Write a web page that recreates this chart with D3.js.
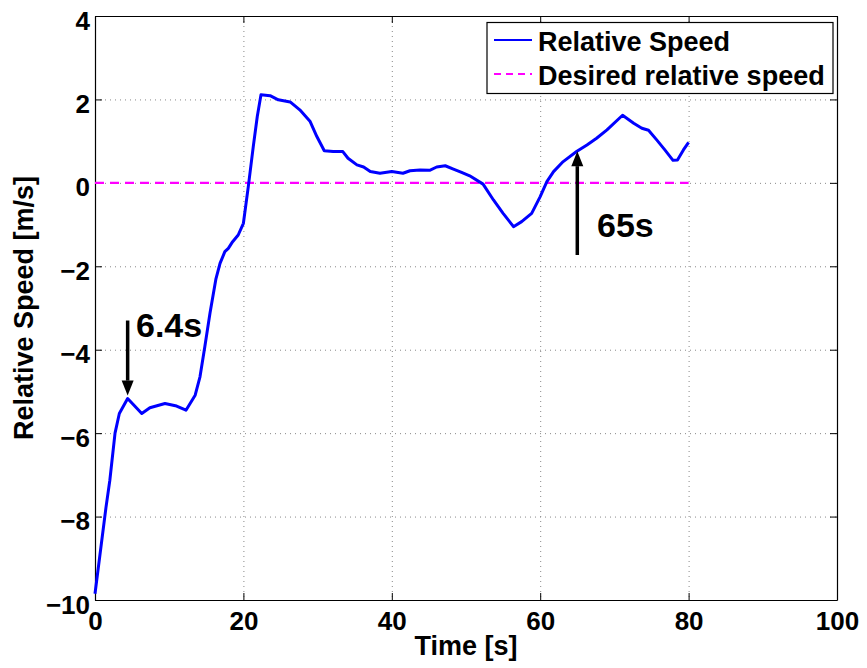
<!DOCTYPE html>
<html>
<head>
<meta charset="utf-8">
<script src="https://cdn.jsdelivr.net/npm/d3@7/dist/d3.min.js"></script>
<style>
  html, body { margin: 0; padding: 0; background: #fff; }
  svg { display: block; font-family: "Liberation Sans", Arial, Helvetica, sans-serif; font-weight: bold; }
</style>
</head>
<body>
<svg id="chart" width="867" height="668"></svg>
<script>
// Measured relative speed over time
const timeS = [0, 1.48, 2.0, 2.7, 3.28, 4.4, 6.3, 7.4, 9.43, 11.0, 12.26, 13.5, 14.15, 14.8, 15.5, 16.3,
  16.85, 17.5, 17.97, 18.55, 19.3, 20.0, 20.66, 21.33, 21.87, 22.37, 23.6, 24.7, 26.3, 27.6, 29.0, 29.9,
  30.9, 32.1, 33.4, 34.1, 35.3, 36.2, 37.1, 38.4, 40.0, 41.5, 42.45, 43.8, 45.1, 46.05, 47.2, 48.3, 49.4,
  50.5, 52.3, 53.7, 55.0, 56.4, 57.5, 58.85, 60.0, 60.9, 61.8, 63.1, 64.9, 66.3, 67.6, 69.0, 71.1, 72.6,
  73.7, 74.6, 75.7, 76.8, 77.9, 78.5, 79.3, 80.0];
const relSpeed = [-9.85, -7.78, -7.13, -6.0, -5.53, -5.17, -5.53, -5.39, -5.29, -5.35, -5.45, -5.09, -4.65, -3.93, -3.12, -2.3,
  -1.93, -1.65, -1.57, -1.41, -1.25, -0.97, -0.09, 0.87, 1.59, 2.11, 2.09, 1.99, 1.94, 1.75, 1.47, 1.11,
  0.77, 0.75, 0.75, 0.59, 0.43, 0.38, 0.27, 0.23, 0.27, 0.23, 0.29, 0.31, 0.30, 0.38, 0.41, 0.33, 0.25,
  0.17, -0.03, -0.41, -0.73, -1.05, -0.93, -0.73, -0.33, 0.03, 0.27, 0.51, 0.75, 0.91, 1.07, 1.27, 1.62, 1.43,
  1.31, 1.26, 1.03, 0.79, 0.54, 0.55, 0.79, 0.97];
// Desired relative speed (constant reference)
const desiredSpeed = 0;

const xTicks = [0, 20, 40, 60, 80, 100];
const yTicks = [-10, -8, -6, -4, -2, 0, 2, 4];
const legendLabels = ["Relative Speed", "Desired relative speed"];

// Annotated instants: [time, arrow start value, arrow tip value, label]
const annotations = [
  { t: 4.4, from: -3.3, to: -5.1, label: "6.4s" },
  { t: 65, from: -1.73, to: 0.76, label: "65s" }
];

const svg = d3.select("#chart");
const L = 95, R = 837, T = 16, B = 600;
const x = d3.scaleLinear().domain([0, 100]).range([L, R]);
const y = d3.scaleLinear().domain([-10, 4]).range([B, T]);

// grid
const grid = svg.append("g").attr("stroke", "#888").attr("stroke-width", 1).attr("stroke-dasharray", "1,4");
grid.selectAll(".gx").data(xTicks.slice(1, -1)).enter().append("line")
  .attr("x1", d => x(d) + 0.5).attr("x2", d => x(d) + 0.5).attr("y1", T).attr("y2", B);
grid.selectAll(".gy").data(yTicks.slice(1, -1)).enter().append("line")
  .attr("x1", L).attr("x2", R).attr("y1", d => y(d) + 0.5).attr("y2", d => y(d) + 0.5);

// axes with inward ticks on all four sides
const tl = 7;
const axB = svg.append("g").attr("transform", `translate(0,${B})`)
  .call(d3.axisBottom(x).tickValues(xTicks).tickSizeInner(-tl).tickSizeOuter(0).tickPadding(12));
const axT = svg.append("g").attr("transform", `translate(0,${T})`)
  .call(d3.axisTop(x).tickValues(xTicks).tickSizeInner(-tl).tickSizeOuter(0).tickFormat(""));
const axL = svg.append("g").attr("transform", `translate(${L},0)`)
  .call(d3.axisLeft(y).tickValues(yTicks).tickSizeInner(-tl).tickSizeOuter(0).tickPadding(5)
    .tickFormat(d => d < 0 ? "\u2212" + Math.abs(d) : d));
const axR = svg.append("g").attr("transform", `translate(${R},0)`)
  .call(d3.axisRight(y).tickValues(yTicks).tickSizeInner(-tl).tickSizeOuter(0).tickFormat(""));
[axB, axT, axL, axR].forEach(a => {
  a.select(".domain").attr("stroke", "#000").attr("stroke-width", 1.2);
  a.selectAll(".tick line").attr("stroke", "#000");
  a.selectAll("text").attr("font-family", "Liberation Sans, Arial, sans-serif")
    .attr("font-weight", "bold").attr("font-size", 26).attr("fill", "#000");
});
axB.selectAll("text").attr("dy", "0.71em");
axL.selectAll("text").attr("dy", "0.5em");

// desired speed reference line
svg.append("line")
  .attr("x1", L).attr("x2", x(80)).attr("y1", y(desiredSpeed)).attr("y2", y(desiredSpeed))
  .attr("stroke", "#ff00ff").attr("stroke-width", 2.4).attr("stroke-dasharray", "9,6");

// measured speed
const line = d3.line().x((d, i) => x(timeS[i])).y(d => y(d));
svg.append("path").datum(relSpeed)
  .attr("d", line).attr("fill", "none").attr("stroke", "#0000ff").attr("stroke-width", 3)
  .attr("stroke-linejoin", "round");

// arrows and labels
const ann = svg.append("g");
annotations.forEach(a => {
  const xa = x(a.t), y0 = y(a.from), y1 = y(a.to);
  const dir = Math.sign(y1 - y0);
  const head = 15, hw = 6;
  ann.append("line").attr("x1", xa).attr("x2", xa).attr("y1", y0).attr("y2", y1 - dir * head)
    .attr("stroke", "#000").attr("stroke-width", 3.5);
  ann.append("path")
    .attr("d", `M${xa},${y1} L${xa - hw},${y1 - dir * head} L${xa + hw},${y1 - dir * head} Z`)
    .attr("fill", "#000");
});
ann.append("text").attr("x", 136).attr("y", 337).attr("font-size", 34).attr("fill", "#000").text(annotations[0].label);
ann.append("text").attr("x", 597).attr("y", 237).attr("font-size", 34).attr("fill", "#000").text(annotations[1].label);

// axis titles
svg.append("text").attr("x", x(50)).attr("y", 655).attr("text-anchor", "middle")
  .attr("font-size", 27).attr("fill", "#000").text("Time [s]");
svg.append("text").attr("transform", `translate(33,${(T + B) / 2}) rotate(-90)`).attr("text-anchor", "middle")
  .attr("font-size", 27).attr("fill", "#000").text("Relative Speed [m/s]");

// legend
const lg = svg.append("g");
lg.append("rect").attr("x", 487).attr("y", 22.5).attr("width", 346).attr("height", 71)
  .attr("fill", "#fff").attr("stroke", "#000").attr("stroke-width", 1.2);
const lgStyles = [{ c: "#0000ff", dash: null, w: 2 }, { c: "#ff00ff", dash: "7,5", w: 2 }];
legendLabels.forEach((lab, i) => {
  const yy = 40 + i * 34;
  lg.append("line").attr("x1", 494).attr("x2", 532).attr("y1", yy).attr("y2", yy)
    .attr("stroke", lgStyles[i].c).attr("stroke-width", lgStyles[i].w)
    .attr("stroke-dasharray", lgStyles[i].dash);
  lg.append("text").attr("x", 538).attr("y", yy + 10.5).attr("font-size", 27).attr("fill", "#000").text(lab);
});
</script>
</body>
</html>
